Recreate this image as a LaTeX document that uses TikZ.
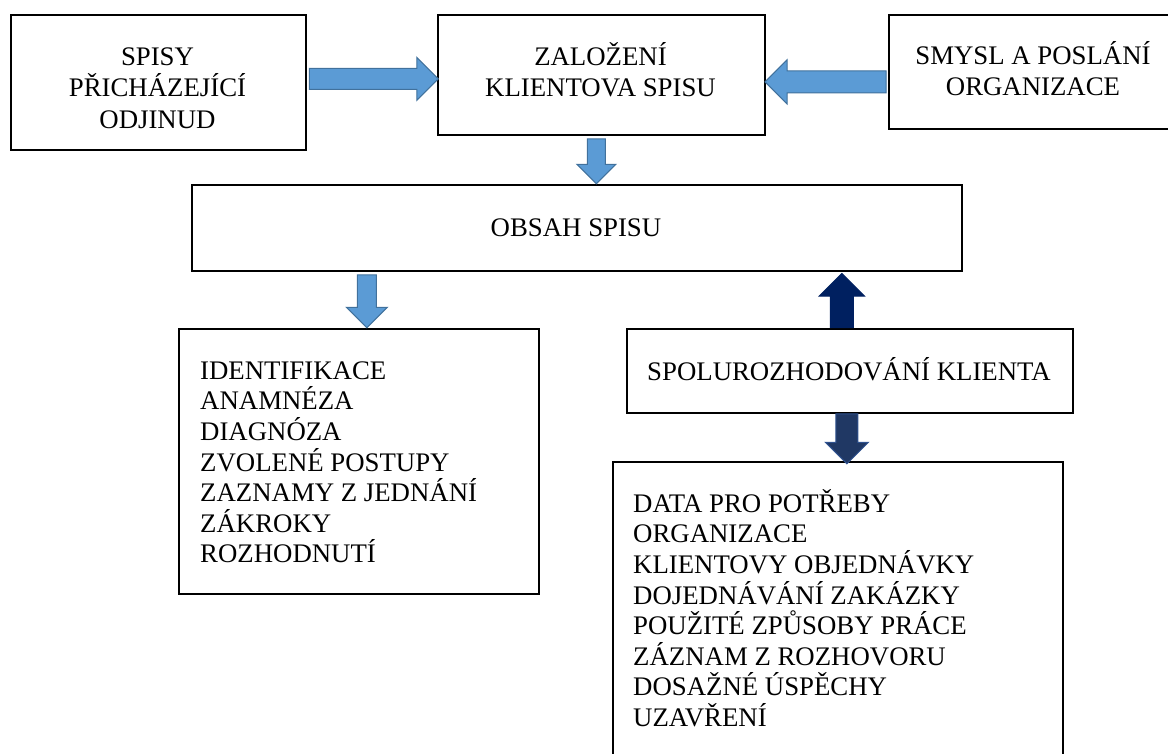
\documentclass[tikz,border=0pt]{standalone}
\usepackage{fontspec}
\setmainfont{Liberation Serif}
\usetikzlibrary{shapes.arrows,calc}
\definecolor{arrowfill}{HTML}{5B9BD5}
\definecolor{arrowline}{HTML}{41719C}
\definecolor{navyA}{HTML}{002060}
\definecolor{navyB}{HTML}{203864}
\definecolor{navyBline}{HTML}{2F528F}
\newcommand{\tstr}{\rule{0pt}{24pt}}
\begin{document}
\begin{tikzpicture}[x=1pt,y=-1pt,
  box/.style={draw=black, line width=1.8pt, rectangle, inner sep=0pt, anchor=north west},
  toptxt/.style={inner sep=0pt, anchor=north, align=center, font=\fontsize{26.8}{31.5}\selectfont},
  listtxt/.style={inner sep=0pt, anchor=north west, align=left, font=\fontsize{26.8}{30.6}\selectfont},
  blockarrow/.style={single arrow, anchor=tail, inner xsep=0pt, line width=1pt, single arrow tip angle=90},
  lightarrow/.style={blockarrow, draw=arrowline, fill=arrowfill},
  darkarrowA/.style={blockarrow, draw=navyA, fill=navyA},
  darkarrowB/.style={blockarrow, draw=navyBline, fill=navyB}]

\useasboundingbox (0,0) rectangle (1168,754);

% boxes
\node[box, minimum width=295pt, minimum height=135pt] (src) at (10,14) {};
\node[box, minimum width=327pt, minimum height=120pt] (zal) at (437,14) {};
\node[box, minimum width=284pt, minimum height=114pt] (smy) at (888,14) {};
\node[box, minimum width=770pt, minimum height=86pt] (obs) at (191,184) {};
\node[box, minimum width=360pt, minimum height=265pt] (ide) at (178,328) {};
\node[box, minimum width=446pt, minimum height=84pt] (spo) at (626,328) {};
\node[box, minimum width=450pt, minimum height=320pt] (dat) at (612,461) {};

% texts
\node[toptxt] (tsrc) at (157.5,41) {\tstr SPISY\\PŘICHÁZEJÍCÍ\\ODJINUD};
\node[toptxt] (tzal) at (600.5,41) {\tstr ZALOŽENÍ\\KLIENTOVA SPISU};
\node[toptxt] (tsmy) at (1033,40) {\tstr SMYSL A POSLÁNÍ\\ORGANIZACE};
\node[toptxt] (tobs) at (576,212) {\tstr OBSAH SPISU};
\node[toptxt] (tspo) at (849,356) {\tstr SPOLUROZHODOVÁNÍ KLIENTA};
\node[listtxt] (tide) at (200,355) {\tstr IDENTIFIKACE\\ANAMNÉZA\\DIAGNÓZA\\ZVOLENÉ POSTUPY\\ZAZNAMY Z JEDNÁNÍ\\ZÁKROKY\\ROZHODNUTÍ};
\node[listtxt] (tdat) at (633,488) {\tstr DATA PRO POTŘEBY\\ORGANIZACE\\KLIENTOVY OBJEDNÁVKY\\DOJEDNÁVÁNÍ ZAKÁZKY\\POUŽITÉ ZPŮSOBY PRÁCE\\ZÁZNAM Z ROZHOVORU\\DOSAŽNÉ ÚSPĚCHY\\UZAVŘENÍ};

% block arrows (placed by their tail, next to the box they leave)
\node[lightarrow, minimum height=129pt, inner ysep=10pt, single arrow head extend=11pt]
  (a1) at ($(src.east)+(2,-3.5)$) {};
\node[lightarrow, rotate=180, minimum height=121pt, inner ysep=10.5pt, single arrow head extend=11pt]
  (a2) at ($(smy.west)+(-1.5,10)$) {};
\node[lightarrow, rotate=-90, minimum height=45pt, inner ysep=8.5pt, single arrow head extend=10.5pt]
  (a3) at ($(zal.south)+(-5,2.5)$) {};
\node[lightarrow, rotate=-90, minimum height=53pt, inner ysep=9pt, single arrow head extend=11pt]
  (a4) at ($(obs.south -| ide.north)+(8,2.5)$) {};
\node[darkarrowA, rotate=90, minimum height=54pt, inner ysep=11pt, single arrow head extend=11pt]
  (a5) at ($(spo.north)+(-8,0)$) {};
\node[darkarrowB, rotate=-90, minimum height=50pt, inner ysep=10.5pt, single arrow head extend=10.5pt]
  (a6) at ($(spo.south)+(-3,-0.5)$) {};
\end{tikzpicture}
\end{document}
